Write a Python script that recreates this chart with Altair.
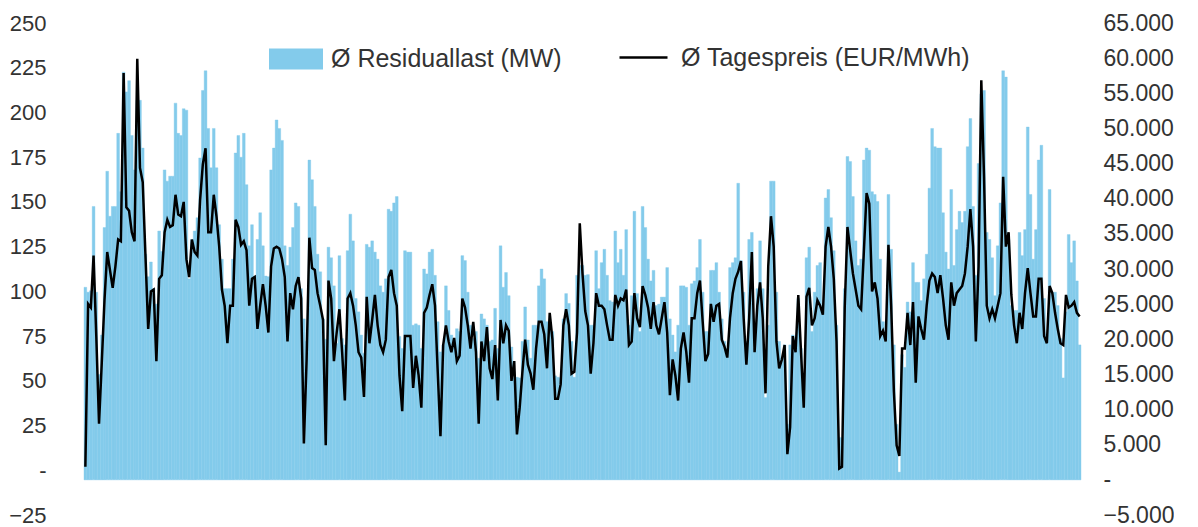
import altair as alt
import pandas as pd

# Daily average day-ahead price (EUR/MWh), left axis
price = [
    2, 93, 91, 120, 75, 26, 60, 95, 122, 112, 102, 114, 129, 128, 222, 147, 145, 133, 128, 230,
    169, 161, 120, 79, 100, 101, 61, 107, 109, 133, 140, 136, 137, 154, 143, 142, 150, 118, 108, 129,
    122, 120, 151, 171, 180, 133, 133, 154, 142, 125, 101, 92, 71, 92, 92, 140, 136, 126, 128, 123,
    92, 107, 108, 79, 92, 104, 92, 77, 114, 124, 125, 124, 118, 108, 72, 99, 90, 103, 108, 96,
    15, 62, 130, 113, 112, 99, 92, 84, 14, 106, 96, 61, 77, 90, 66, 39, 96, 99, 92, 81,
    66, 63, 41, 97, 71, 84, 98, 81, 70, 66, 73, 108, 112, 99, 92, 53, 33, 75, 75, 75,
    46, 64, 53, 35, 88, 91, 98, 104, 92, 55, 19, 70, 81, 72, 66, 74, 61, 64, 96, 91,
    81, 68, 83, 66, 26, 72, 61, 80, 57, 51, 70, 39, 84, 71, 81, 78, 50, 61, 20, 35,
    55, 73, 59, 54, 45, 68, 83, 83, 76, 57, 88, 73, 40, 40, 48, 81, 90, 81, 54, 55,
    77, 138, 110, 89, 81, 54, 71, 99, 92, 92, 90, 81, 73, 73, 98, 92, 96, 95, 101, 70,
    72, 99, 85, 80, 103, 98, 91, 79, 94, 81, 76, 85, 94, 77, 42, 62, 53, 39, 68, 77,
    66, 49, 85, 85, 99, 106, 83, 61, 65, 93, 83, 92, 93, 73, 69, 63, 85, 99, 107, 111,
    117, 85, 59, 85, 122, 66, 92, 105, 85, 43, 114, 142, 125, 72, 57, 62, 70, 9, 24, 75,
    66, 98, 66, 35, 97, 102, 81, 85, 95, 92, 87, 125, 136, 125, 107, 72, 1, 2, 91, 136,
    123, 110, 101, 92, 90, 122, 155, 149, 100, 105, 96, 75, 78, 72, 126, 92, 44, 14, 8, 68,
    68, 88, 70, 94, 49, 86, 79, 73, 92, 106, 110, 108, 99, 109, 96, 81, 73, 105, 92, 99,
    101, 103, 110, 125, 146, 125, 72, 114, 218, 164, 92, 85, 90, 85, 92, 99, 164, 125, 133, 98,
    81, 71, 88, 79, 99, 113, 99, 86, 86, 107, 107, 75, 71, 103, 99, 88, 79, 71, 70, 98,
    91, 92, 94, 88, 86,
]

# Daily average residual load (MW), right axis
load = [
    27400, 26700, 26900, 38900, 26700, 15000, 20600, 35900, 43900, 37500,
    38900, 38900, 49300, 41000, 58000, 55200, 56800, 49000, 44100, 54000,
    54000, 47200, 32100, 28900, 31000, 27200, 25000, 35400, 32500, 44100,
    42500, 43200, 43200, 53600, 49300, 49000, 52800, 52600, 28600, 34200,
    35400, 37300, 45800, 55400, 58200, 50000, 44400, 50000, 44400, 36300,
    31400, 27200, 27200, 27200, 31400, 46500, 49000, 45900, 49300, 42000,
    33300, 36300, 29000, 34200, 38000, 33300, 29000, 28900, 44100, 47200,
    51200, 50000, 48300, 33300, 30500, 33100, 35900, 39400, 38900, 27200,
    22900, 19700, 45500, 42700, 38900, 32100, 29600, 22900, 20000, 33100,
    31600, 27600, 19400, 31900, 20100, 19200, 32600, 37800, 34000, 25800,
    23900, 20600, 18000, 33500, 33100, 34000, 32400, 31400, 27600, 26700,
    28600, 38500, 38200, 39400, 40300, 20400, 18700, 32600, 32400, 32400,
    22000, 22200, 22000, 18700, 30000, 29300, 32400, 32800, 29100, 22500,
    18200, 19200, 27600, 24100, 20600, 19900, 21500, 21100, 31900, 31200,
    26700, 22000, 20100, 21100, 17300, 23600, 22900, 22000, 19700, 19900,
    24400, 18700, 33300, 27400, 29500, 26200, 18900, 14500, 14600, 14500,
    19700, 24600, 19900, 17300, 22000, 22000, 27600, 30000, 28600, 22500,
    22500, 21100, 14800, 14600, 14500, 22900, 26500, 25100, 19700, 14600,
    29100, 30500, 30500, 29100, 29200, 22000, 22000, 32600, 27200, 30900,
    32800, 29100, 25500, 25300, 35400, 30900, 32800, 29100, 35600, 22000,
    26200, 38200, 26500, 21100, 38900, 35900, 31400, 28300, 29800, 24800,
    25000, 26000, 26000, 30200, 22900, 20600, 18200, 22000, 27600, 27600,
    27400, 22000, 27900, 28300, 30200, 34200, 26700, 21100, 21100, 29800,
    29800, 30900, 26700, 22900, 19700, 18700, 30200, 30900, 31600, 42200,
    31200, 26700, 19700, 34200, 35200, 18700, 27200, 34000, 27200, 11700,
    22000, 42500, 42500, 26700, 19700, 17300, 19200, 7900, 19200, 20600,
    19700, 25800, 18700, 14500, 31600, 33100, 21100, 26700, 30500, 30900,
    23900, 40100, 41300, 37300, 32600, 22000, 6000, 6000, 27200, 46000,
    45300, 40300, 34000, 30500, 31400, 45500, 47200, 46900, 41000, 40600,
    39600, 31400, 22500, 19700, 40600, 32800, 19200, 7900, 1100, 17800,
    16000, 25300, 23900, 30900, 28100, 28100, 25500, 28600, 32100, 41500,
    50000, 47400, 47200, 47200, 38000, 32400, 30000, 41300, 30500, 35600,
    38200, 36600, 38200, 47400, 51400, 38900, 29100, 45000, 54900, 55400,
    35200, 34200, 31600, 26200, 33300, 39400, 58200, 57300, 34200, 24800,
    24100, 24100, 35200, 31900, 35600, 50200, 40600, 31400, 35600, 45500,
    47600, 25800, 20600, 41300, 26700, 26700, 24800, 20100, 14500, 23900,
    34900, 30900, 34000, 28300, 19200,
]

bar_label = "Ø Residuallast (MW)"
line_label = "Ø Tagespreis (EUR/MWh)"
left_ticks = list(range(-25, 251, 25))
right_ticks = list(range(-5000, 65001, 5000))

BLUE = "#83CBEB"
FONT = "Liberation Sans"
TXT = "#333333"

n = min(len(price), len(load))
df = pd.DataFrame({
    "day": list(range(n)),
    "price": price[:n],
    "load": load[:n],
    "s_bar": bar_label,
    "s_line": line_label,
})

xenc = alt.X("day:O", axis=None, scale=alt.Scale(paddingInner=0, paddingOuter=0))

bars = alt.Chart(df).mark_bar(stroke=BLUE, strokeWidth=0.4).encode(
    x=xenc,
    y=alt.Y(
        "load:Q",
        scale=alt.Scale(domain=[-5000, 65000], nice=False, zero=False),
        axis=alt.Axis(
            orient="right", values=right_ticks, title=None, grid=False, domain=False,
            ticks=False, tickSize=0, labelPadding=22, labelAlign="left",
            labelExpr="datum.value == 0 ? '-' : format(datum.value / 1000, '.3f')",
            labelFontSize=23, labelFont=FONT, labelColor=TXT,
        ),
    ),
    fill=alt.Fill(
        "s_bar:N",
        scale=alt.Scale(domain=[bar_label], range=[BLUE]),
        legend=alt.Legend(
            title=None, orient="none", legendX=185, legendY=9, padding=0,
            symbolType="M-1,-0.39H1V0.39H-1Z", symbolSize=2916, symbolStrokeWidth=0,
            symbolOpacity=1, labelOffset=8, labelLimit=500,
            labelFontSize=25, labelFont=FONT, labelColor=TXT,
        ),
    ),
)

line = alt.Chart(df).mark_line(strokeWidth=2.5).encode(
    x=xenc,
    y=alt.Y(
        "price:Q",
        scale=alt.Scale(domain=[-25, 250], nice=False, zero=False),
        axis=alt.Axis(
            orient="left", values=left_ticks, title=None, grid=False, domain=False,
            ticks=False, tickSize=0, labelPadding=38,
            labelExpr="datum.value == 0 ? '-' : datum.label",
            labelFontSize=22, labelFont=FONT, labelColor=TXT,
        ),
    ),
    stroke=alt.Stroke(
        "s_line:N",
        scale=alt.Scale(domain=[line_label], range=["#000000"]),
        legend=alt.Legend(
            title=None, orient="none", legendX=534, legendY=9, padding=0,
            symbolType="stroke", symbolSize=2304, symbolStrokeWidth=2.5,
            labelOffset=12, labelLimit=500,
            labelFontSize=25, labelFont=FONT, labelColor=TXT,
        ),
    ),
)

chart = (
    alt.layer(bars, line)
    .resolve_scale(y="independent")
    .properties(
        width=997, height=492, background="white",
        padding={"left": 0, "top": 4, "right": 0, "bottom": 0},
    )
    .configure_view(stroke=None)
)

chart.save("out.html", embed_options={"renderer": "svg", "actions": False})
